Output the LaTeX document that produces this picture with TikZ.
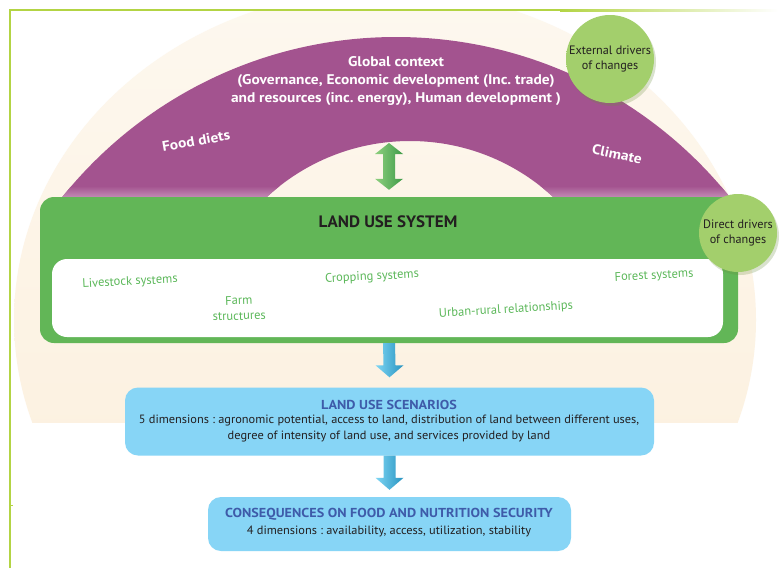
\documentclass[tikz,border=0pt]{standalone}
\usepackage{fontspec}
\setmainfont{PT Sans}
\newfontfamily\archfont{PT Sans}[FakeStretch=1.1]
\newfontfamily\wfont{PT Sans}[FakeStretch=1.03]
\newfontfamily\tfont{PT Sans}[FakeStretch=1.09]
\usetikzlibrary{calc}
\frenchspacing
\definecolor{framegreen}{HTML}{B3D444}
\definecolor{creamtop}{HTML}{FDF8EF}
\definecolor{creambot}{HTML}{FCEEDA}
\definecolor{archpurple}{HTML}{A3538F}
\definecolor{archpink}{HTML}{C28AB4}
\definecolor{lugreen}{HTML}{62B657}
\definecolor{labelgreen}{HTML}{5CB85A}
\definecolor{circgreen}{HTML}{A3CF6C}
\definecolor{circdark}{HTML}{84B24F}
\definecolor{scenblue}{HTML}{87D5F6}
\definecolor{titleblue}{HTML}{3E5BA9}
\definecolor{textdark}{HTML}{231F20}
\definecolor{arrowgreenL}{HTML}{8FD07F}
\definecolor{arrowgreenD}{HTML}{3E9B48}
\definecolor{arrowblueL}{HTML}{7FD6F4}
\definecolor{arrowblueD}{HTML}{2793C0}
\pgfdeclareradialshading{drvshade}{\pgfpoint{0bp}{0bp}}{color(0bp)=(circgreen); color(38bp)=(circgreen); color(50bp)=(circdark)}
\begin{document}
\begin{tikzpicture}[x=1pt,y=-1pt,
  lubox/.style={fill=lugreen, rounded corners=14pt, minimum width=698pt, minimum height=146pt, inner sep=0pt},
  whitebox/.style={fill=white, rounded corners=15pt, minimum width=671pt, minimum height=78pt, inner sep=0pt},
  lutitle/.style={font=\wfont\fontsize{16.5}{18}\selectfont\bfseries, text=textdark, inner sep=0pt},
  archtext/.style={font=\archfont\fontsize{14}{18}\selectfont\bfseries, text=white, align=center, inner sep=0pt},
  subsys/.style={font=\fontsize{12.5}{15.5}\selectfont, text=labelgreen, align=center, inner sep=0pt},
  driver/.style={circle, shading=drvshade, minimum size=#1, inner sep=0pt, align=center, text=textdark, font=\fontsize{12.2}{15.5}\selectfont},
  scenbox/.style={fill=scenblue, rounded corners=13pt, inner sep=0pt},
  boxtitle/.style={font=\tfont\fontsize{13}{16}\selectfont\bfseries, text=titleblue, inner sep=0pt},
  boxtext/.style={font=\wfont\fontsize{12}{16}\selectfont, text=textdark, align=center, inner sep=0pt},
  bluearrow/.style={left color=arrowblueL, right color=arrowblueD},
  greenarrow/.style={left color=arrowgreenL, right color=arrowgreenD}
]
\useasboundingbox (0,0) rectangle (781,568);
\fill[white] (0,0) rectangle (781,568);

% cream disc
\begin{scope}
  \clip (10,10) rectangle (781,422);
  \shade[top color=creamtop, bottom color=creambot] (385,320) ellipse[x radius=371pt, y radius=330pt];
\end{scope}

% frame
\draw[framegreen, line width=2pt] (10,568) -- (10,10) -- (560,10);
\shade[left color=framegreen, right color=white] (560,9) rectangle (778,11);
\draw[framegreen, line width=1pt] (10,505.5) -- (13,505.5);

% purple arch
\begin{scope}
  \clip (0,0) rectangle (781,197);
  \fill[archpurple, even odd rule] (396,465) circle[radius=428pt] (410,352) circle[radius=211pt];
\end{scope}
\begin{scope}
  \clip (0,186) rectangle (781,197);
  \begin{scope}[even odd rule]
    \clip (396,465) circle[radius=428pt] (410,352) circle[radius=211pt];
    \shade[top color=archpurple, bottom color=archpink] (0,186) rectangle (781,197);
  \end{scope}
\end{scope}

\node[archtext] (glob) at (396,81) {Global context\\(Governance, Economic development (Inc. trade)\\and resources (inc. energy), Human development )};
\node[archtext, rotate=10] (diet) at (196,141) {Food diets};
\node[archtext, rotate=-12] (clim) at (617,154) {Climate};

% land use system
\node[lubox] (lus) at (389,270) {};
\node[lutitle] (lust) at (388,222) {LAND USE SYSTEM};
\node[whitebox] (inner) at (387.5,298) {};
\node[subsys, rotate=3] (live) at (130,282) {Livestock systems};
\node[subsys, rotate=2] (farm) at (239,308) {Farm\\structures};
\node[subsys, rotate=3] (crop) at (372,277) {Cropping systems};
\node[subsys, rotate=3.5] (urban) at (506,310) {Urban-rural relationships};
\node[subsys, rotate=3] (forest) at (654,276) {Forest systems};

% drivers
\fill[circdark!80!black, opacity=0.25] (612,62) circle[radius=44pt];
\node[driver=88pt] (ext) at (610,59) {External drivers\\of changes};
\fill[circdark!80!black, opacity=0.25] (740,236) circle[radius=39pt];
\node[driver=78pt] (dir) at (738,233) {Direct drivers\\of changes};

% scenarios
\node[scenbox, minimum width=529pt, minimum height=68pt] (scen) at (389.5,421.5) {};
\node[boxtitle] (scent) at (389,405) {LAND USE SCENARIOS};
\node[boxtext] (scentx) at (389,429) {5 dimensions : agronomic potential, access to land, distribution of land between different uses,\\degree of intensity of land use, and services provided by land};

\node[scenbox, minimum width=363pt, minimum height=54pt] (cons) at (389.5,524) {};
\node[boxtitle] (const) at (389,514) {CONSEQUENCES ON FOOD AND NUTRITION SECURITY};
\node[boxtext] (constx) at (389,531) {4 dimensions : availability, access, utilization, stability};

% double green arrow between arch and land use system
\coordinate (gtop) at (389,143);
\coordinate (gbot) at (lus.north -| gtop);
\shade[greenarrow] (gtop) -- ($(gtop)+(14,11)$) -- ($(gtop)+(6,11)$) -- ($(gbot)+(6,-18)$) -- ($(gbot)+(14,-18)$) -- ($(gbot)+(0,-7)$) -- ($(gbot)+(-14,-18)$) -- ($(gbot)+(-6,-18)$) -- ($(gtop)+(-6,11)$) -- ($(gtop)+(-14,11)$) -- cycle;

% blue arrows
\coordinate (a1s) at (lus.south);
\coordinate (a1e) at ($(scen.north)+(0,-10)$);
\shade[bluearrow] ($(a1s)+(-6,0)$) -- ($(a1s)+(6,0)$) -- ($(a1e)+(6,-12)$) -- ($(a1e)+(14,-12)$) -- (a1e) -- ($(a1e)+(-14,-12)$) -- ($(a1e)+(-6,-12)$) -- cycle;
\coordinate (a2s) at (scen.south);
\coordinate (a2e) at ($(cons.north)+(0,-7)$);
\shade[bluearrow] ($(a2s)+(-6,0)$) -- ($(a2s)+(6,0)$) -- ($(a2e)+(6,-12)$) -- ($(a2e)+(14,-12)$) -- (a2e) -- ($(a2e)+(-14,-12)$) -- ($(a2e)+(-6,-12)$) -- cycle;
\end{tikzpicture}
\end{document}
